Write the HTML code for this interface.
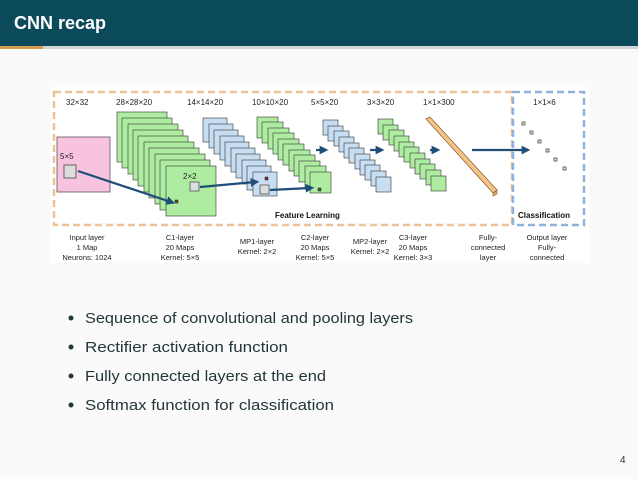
<!DOCTYPE html>
<html><head><meta charset="utf-8"><style>
html,body{margin:0;padding:0;background:#fafafa;}
svg{display:block;font-family:"Liberation Sans","DejaVu Sans",sans-serif;}
</style></head><body>
<svg width="638" height="479" viewBox="0 0 638 479" xmlns="http://www.w3.org/2000/svg">
<rect width="638" height="479" fill="#fafafa"/>
<rect width="638" height="46" fill="#0b4a5a"/>
<rect y="46" width="638" height="3" fill="#d1d6d5"/>
<rect y="46" width="43" height="3" fill="#d49e4c"/>
<text x="14" y="29" fill="#fff" font-size="18" font-weight="bold">CNN recap</text>

<rect x="50" y="87" width="539" height="176" fill="#fff"/>
<rect x="54" y="92" width="458" height="133" fill="none" stroke="#f0c298" stroke-width="2.5" stroke-dasharray="7,4"/>
<rect x="513" y="92" width="71" height="133" fill="none" stroke="#8fb3dc" stroke-width="2.5" stroke-dasharray="7,4"/>

<g font-size="8" fill="#222">
<text x="66" y="105">32×32</text>
<text x="116" y="105">28×28×20</text>
<text x="187" y="105">14×14×20</text>
<text x="252" y="105">10×10×20</text>
<text x="311" y="105">5×5×20</text>
<text x="367" y="105">3×3×20</text>
<text x="423" y="105">1×1×300</text>
<text x="533" y="105">1×1×6</text>
</g>

<rect x="57" y="137" width="53" height="55" fill="#f8c3df" stroke="#555" stroke-width="0.8"/>
<text x="60" y="159" font-size="8" fill="#222">5×5</text>
<rect x="64" y="165" width="12" height="13" fill="#ddd" stroke="#444" stroke-width="0.8"/>

<g fill="#aeeca2" stroke="#333" stroke-width="0.6">
<rect x="117" y="112" width="50" height="50"/><rect x="122" y="118" width="50" height="50"/><rect x="128" y="124" width="50" height="50"/><rect x="133" y="130" width="50" height="50"/><rect x="138" y="136" width="50" height="50"/><rect x="144" y="142" width="50" height="50"/><rect x="149" y="148" width="50" height="50"/><rect x="155" y="154" width="50" height="50"/><rect x="160" y="160" width="50" height="50"/><rect x="166" y="166" width="50" height="50"/>
</g>
<text x="183" y="179" font-size="8" fill="#222">2×2</text>
<rect x="190" y="182" width="9" height="9" fill="#ddd" stroke="#444" stroke-width="0.7"/>
<rect x="175" y="200" width="3" height="3" fill="#553" stroke="#222" stroke-width="0.5"/>

<g fill="#c6ddf2" stroke="#333" stroke-width="0.6">
<rect x="203" y="118" width="24" height="24"/><rect x="209" y="124" width="24" height="24"/><rect x="214" y="130" width="24" height="24"/><rect x="220" y="136" width="24" height="24"/><rect x="225" y="142" width="24" height="24"/><rect x="231" y="148" width="24" height="24"/><rect x="236" y="154" width="24" height="24"/><rect x="242" y="160" width="24" height="24"/><rect x="247" y="166" width="24" height="24"/><rect x="253" y="172" width="24" height="24"/>
</g>
<rect x="260" y="185" width="9" height="9" fill="#ddd" stroke="#444" stroke-width="0.7"/>
<rect x="265" y="177" width="3" height="3" fill="#822" stroke="#222" stroke-width="0.5"/>

<g fill="#aeeca2" stroke="#333" stroke-width="0.6">
<rect x="257" y="117" width="21" height="21"/><rect x="262" y="122" width="21" height="21"/><rect x="268" y="128" width="21" height="21"/><rect x="273" y="133" width="21" height="21"/><rect x="278" y="139" width="21" height="21"/><rect x="283" y="144" width="21" height="21"/><rect x="289" y="150" width="21" height="21"/><rect x="294" y="155" width="21" height="21"/><rect x="299" y="161" width="21" height="21"/><rect x="305" y="166" width="21" height="21"/><rect x="310" y="172" width="21" height="21"/>
</g>
<rect x="318" y="188" width="3" height="3" fill="#553" stroke="#222" stroke-width="0.5"/>

<g fill="#c6ddf2" stroke="#333" stroke-width="0.6">
<rect x="323" y="120" width="15" height="15"/><rect x="328" y="126" width="15" height="15"/><rect x="334" y="131" width="15" height="15"/><rect x="339" y="137" width="15" height="15"/><rect x="344" y="143" width="15" height="15"/><rect x="349" y="148" width="15" height="15"/><rect x="355" y="154" width="15" height="15"/><rect x="360" y="160" width="15" height="15"/><rect x="365" y="165" width="15" height="15"/><rect x="371" y="171" width="15" height="15"/><rect x="376" y="177" width="15" height="15"/>
</g>
<g fill="#aeeca2" stroke="#333" stroke-width="0.6">
<rect x="378" y="119" width="15" height="15"/><rect x="383" y="125" width="15" height="15"/><rect x="389" y="130" width="15" height="15"/><rect x="394" y="136" width="15" height="15"/><rect x="399" y="142" width="15" height="15"/><rect x="404" y="147" width="15" height="15"/><rect x="410" y="153" width="15" height="15"/><rect x="415" y="159" width="15" height="15"/><rect x="420" y="164" width="15" height="15"/><rect x="426" y="170" width="15" height="15"/><rect x="431" y="176" width="15" height="15"/>
</g>

<polygon points="426,119 430,117 497,190 493,193" fill="#f3c58a" stroke="#8a5a20" stroke-width="0.7"/>
<polygon points="493,193 497,190 497,194 493,196" fill="#e0a85e" stroke="#8a5a20" stroke-width="0.6"/>

<g fill="#f5edc5" stroke="#333" stroke-width="0.7">
<rect x="522" y="122" width="3" height="3"/><rect x="530" y="131" width="3" height="3"/><rect x="538" y="140" width="3" height="3"/><rect x="546" y="149" width="3" height="3"/><rect x="554" y="158" width="3" height="3"/><rect x="563" y="167" width="3" height="3"/>
</g>

<defs><marker id="a" markerWidth="4" markerHeight="4" refX="2" refY="2" orient="auto"><path d="M0,0 L4,2 L0,4 Z" fill="#1f4e79"/></marker></defs>
<g stroke="#1f4e79" stroke-width="2.2" fill="none" marker-end="url(#a)">
<line x1="78" y1="171" x2="171" y2="202"/>
<line x1="200" y1="187" x2="255" y2="182"/>
<line x1="270" y1="190" x2="310" y2="188"/>
<line x1="316" y1="150" x2="324" y2="150"/>
<line x1="370" y1="150" x2="380" y2="150"/>
<line x1="430" y1="150" x2="436" y2="150"/>
<line x1="472" y1="150" x2="526" y2="150"/>
</g>

<text x="275" y="218" font-size="8" font-weight="bold" fill="#111">Feature Learning</text>
<text x="518" y="218" font-size="8" font-weight="bold" fill="#111">Classification</text>

<g font-size="7.5" fill="#222" text-anchor="middle">
<text x="87" y="240">Input layer</text><text x="87" y="250">1 Map</text><text x="87" y="260">Neurons: 1024</text>
<text x="180" y="240">C1-layer</text><text x="180" y="250">20 Maps</text><text x="180" y="260">Kernel: 5×5</text>
<text x="257" y="244">MP1-layer</text><text x="257" y="254">Kernel: 2×2</text>
<text x="315" y="240">C2-layer</text><text x="315" y="250">20 Maps</text><text x="315" y="260">Kernel: 5×5</text>
<text x="370" y="244">MP2-layer</text><text x="370" y="254">Kernel: 2×2</text>
<text x="413" y="240">C3-layer</text><text x="413" y="250">20 Maps</text><text x="413" y="260">Kernel: 3×3</text>
<text x="488" y="240">Fully-</text><text x="488" y="250">connected</text><text x="488" y="260">layer</text>
<text x="547" y="240">Output layer</text><text x="547" y="250">Fully-</text><text x="547" y="260">connected</text>
</g>

<g fill="#23373b" font-size="15">
<circle cx="71" cy="318" r="2.5"/><text x="85" y="323" textLength="328" lengthAdjust="spacingAndGlyphs">Sequence of convolutional and pooling layers</text>
<circle cx="71" cy="347" r="2.5"/><text x="85" y="352" textLength="203" lengthAdjust="spacingAndGlyphs">Rectifier activation function</text>
<circle cx="71" cy="376" r="2.5"/><text x="85" y="381" textLength="241" lengthAdjust="spacingAndGlyphs">Fully connected layers at the end</text>
<circle cx="71" cy="405" r="2.5"/><text x="85" y="410" textLength="249" lengthAdjust="spacingAndGlyphs">Softmax function for classification</text>
</g>
<text x="620" y="463" font-size="10" fill="#23373b">4</text>
</svg>
</body></html>
